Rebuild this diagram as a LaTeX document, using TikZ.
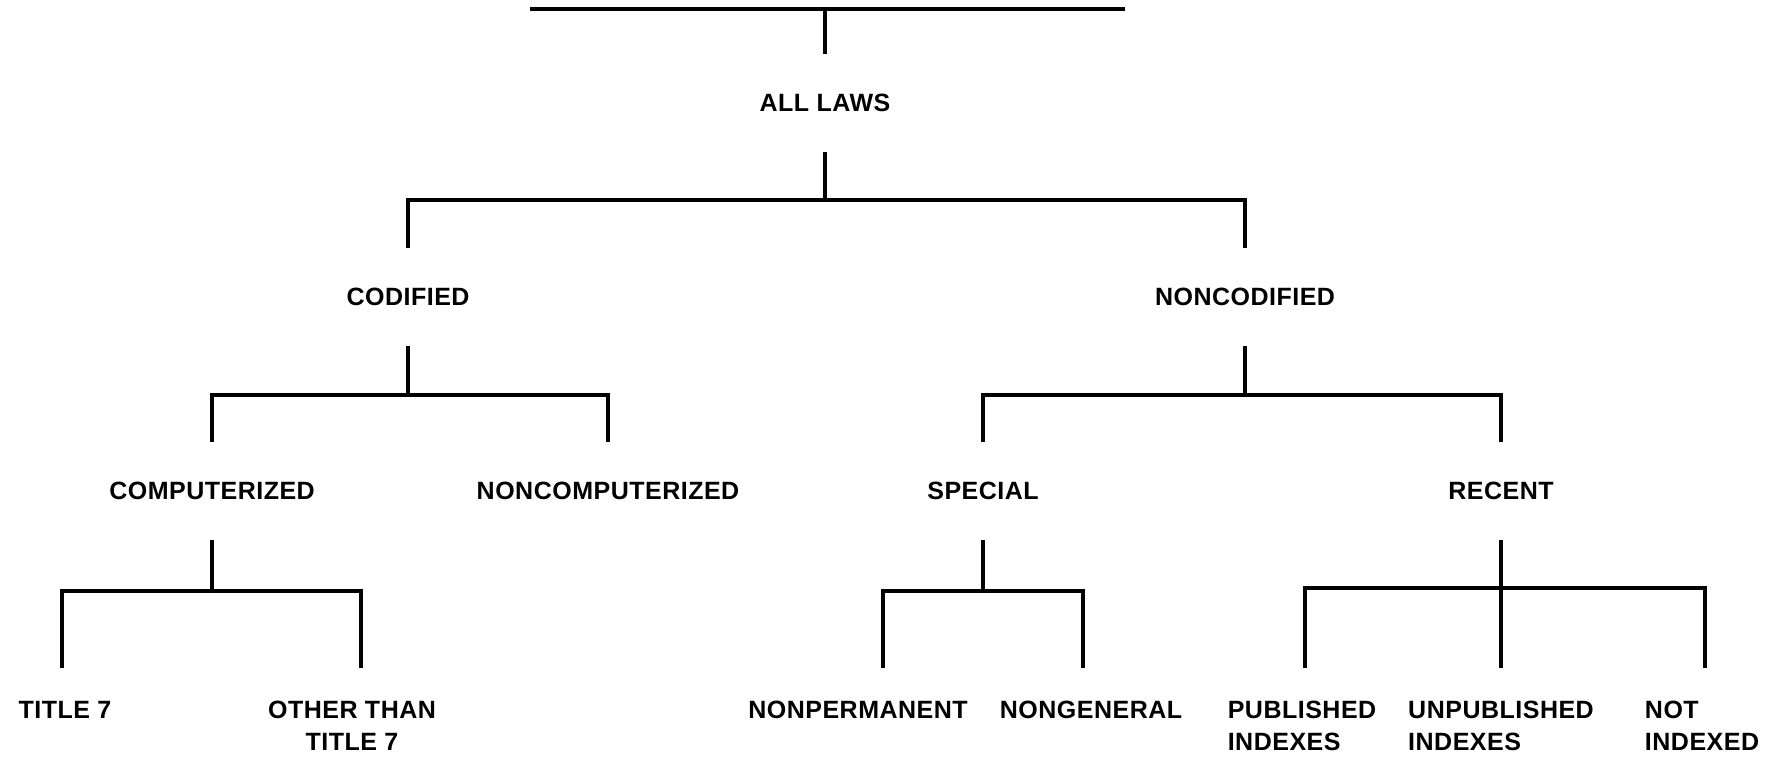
\documentclass[tikz,border=0pt]{standalone}
\usepackage{fontspec}
\setmainfont{Liberation Sans}
\usetikzlibrary{positioning}

\begin{document}
\begin{tikzpicture}[x=1pt, y=-1pt,
        % Node Styles
        cat/.style={inner sep=0pt, minimum height=98pt, font=\fontsize{25}{32}\selectfont\bfseries\addfontfeatures{LetterSpace=2}},
        leaf/.style={inner sep=0pt, anchor=north, align=center, font=\fontsize{25}{32}\selectfont\bfseries\addfontfeatures{LetterSpace=2}},
        leafl/.style={leaf, align=left},
        branch/.style={line width=4pt, line join=miter}
    ]
    \useasboundingbox (0,0) rectangle (1768,757);

    % --- 1. Category Nodes ---
    \node[cat] (all) at (825,103) {ALL LAWS};
    \node[cat] (cod) at (408,297) {CODIFIED};
    \node[cat] (noncod) at (1245,297) {NONCODIFIED};
    \node[cat] (comp) at (212,491) {COMPUTERIZED};
    \node[cat] (noncomp) at (608,491) {NONCOMPUTERIZED};
    \node[cat] (spec) at (983,491) {SPECIAL};
    \node[cat] (rec) at (1501,491) {RECENT};

    % --- 2. Leaf Stubs and Nodes ---
    \coordinate (s-t7) at (62,668);
    \coordinate (s-oth) at (361,668);
    \coordinate (s-nperm) at (883,668);
    \coordinate (s-ngen) at (1083,668);
    \coordinate (s-pub) at (1305,668);
    \coordinate (s-unpub) at (rec.south |- s-pub);
    \coordinate (s-not) at (1705,668);

    \node[leaf, below=33pt of s-t7, xshift=3pt] (t7) {TITLE 7};
    \node[leaf, below=33pt of s-oth, xshift=-9pt] (oth) {OTHER THAN\\TITLE 7};
    \node[leaf, below=33pt of s-nperm, xshift=-25pt] (nperm) {NONPERMANENT};
    \node[leaf, below=33pt of s-ngen, xshift=8pt] (ngen) {NONGENERAL};
    \node[leafl, below=33pt of s-pub, xshift=-3pt] (pub) {PUBLISHED\\INDEXES};
    \node[leafl, below=33pt of s-unpub, xshift=0pt] (unpub) {UNPUBLISHED\\INDEXES};
    \node[leafl, below=33pt of s-not, xshift=-3pt] (notidx) {NOT\\INDEXED};

    % --- Routing Connections ---
    % Top bar
    \coordinate (barL) at (530,9);
    \coordinate (barR) at (1125,9);
    \draw[branch] (barL) -- (barR);
    \draw[branch] (all.north) -- (all.north |- barL);

    % All laws split
    \draw[branch] (all.south) -- ++(0,48) coordinate (fkall);
    \draw[branch] (cod.north) -- (cod.north |- fkall) -- (noncod.north |- fkall) -- (noncod.north);

    % Codified split
    \draw[branch] (cod.south) -- ++(0,49) coordinate (fkcod);
    \draw[branch] (comp.north) -- (comp.north |- fkcod) -- (noncomp.north |- fkcod) -- (noncomp.north);

    % Noncodified split
    \draw[branch] (noncod.south) -- ++(0,49) coordinate (fknoncod);
    \draw[branch] (spec.north) -- (spec.north |- fknoncod) -- (rec.north |- fknoncod) -- (rec.north);

    % Computerized split
    \draw[branch] (comp.south) -- ++(0,51) coordinate (fkcomp);
    \draw[branch] (s-t7) -- (s-t7 |- fkcomp) -- (s-oth |- fkcomp) -- (s-oth);

    % Special split
    \draw[branch] (spec.south) -- ++(0,51) coordinate (fkspec);
    \draw[branch] (s-nperm) -- (s-nperm |- fkspec) -- (s-ngen |- fkspec) -- (s-ngen);

    % Recent split (three ways)
    \draw[branch] (rec.south) -- ++(0,48) coordinate (fkrec) -- (s-unpub);
    \draw[branch] (s-pub) -- (s-pub |- fkrec) -- (s-not |- fkrec) -- (s-not);

\end{tikzpicture}
\end{document}
